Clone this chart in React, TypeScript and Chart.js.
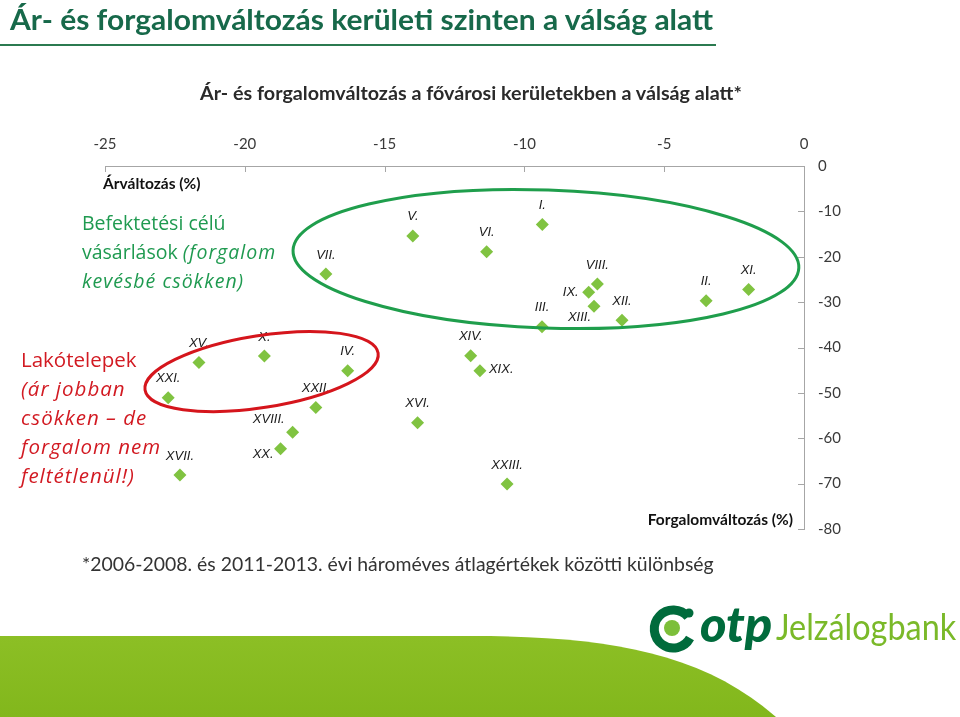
import React, { useEffect, useLayoutEffect, useRef } from "react";
import { Chart, registerables } from "chart.js";

Chart.register(...registerables);

// ---- data ----
const districts = [
  "I.", "II.", "III.", "IV.", "V.", "VI.", "VII.", "VIII.", "IX.", "X.", "XI.", "XII.",
  "XIII.", "XIV.", "XV.", "XVI.", "XVII.", "XVIII.", "XIX.", "XX.", "XXI.", "XXII.", "XXIII.",
];
// x: Árváltozás (%)
const priceChange = [
  -9.36, -3.5, -9.37, -16.32, -13.99, -11.35, -17.1, -7.39, -7.7, -19.3, -1.98, -6.51,
  -7.51, -11.92, -21.64, -13.82, -22.32, -18.29, -11.59, -18.72, -22.74, -17.46, -10.62,
];
// y: Forgalomváltozás (%)
const turnoverChange = [
  -12.9, -29.7, -35.4, -45.1, -15.4, -18.9, -23.8, -26.0, -27.8, -41.9, -27.2, -34.0,
  -30.9, -41.8, -43.3, -56.6, -68.1, -58.7, -45.1, -62.3, -51.1, -53.2, -70.1,
];
const xTicks = [-25, -20, -15, -10, -5, 0];
const yTicks = [0, -10, -20, -30, -40, -50, -60, -70, -80];

// label placement (style only)
const labelPlace: Record<string, [number, number, CanvasTextAlign]> = {
  "IX.": [-10, 0, "right"],
  "XIII.": [-3, 11, "right"],
  "XIX.": [9, -1, "left"],
  "XVIII.": [-8, -13, "right"],
  "XX.": [-7, 6, "right"],
};

// annotation ellipses in data units: [cx, cy, rx, ry, rotationDeg, color]
const ellipses: [number, number, number, number, number, string][] = [
  [-9.23, -20.5, 9.05, 15.2, 2, "#1f9e4c"],
  [-19.4, -45.3, 4.22, 7.93, -9, "#d5151c"],
];

const FitText: React.FC<{ left: number; top: number; width: number; style?: React.CSSProperties; children: React.ReactNode }> = ({ left, top, width, style, children }) => {
  const ref = useRef<HTMLSpanElement>(null);
  useLayoutEffect(() => {
    const el = ref.current;
    if (!el) return;
    el.style.transform = "none";
    const w = el.offsetWidth;
    if (w > 0) el.style.transform = `scaleX(${width / w})`;
  });
  return (
    <span
      ref={ref}
      style={{ position: "absolute", left, top, whiteSpace: "nowrap", display: "inline-block", transformOrigin: "0 0", lineHeight: 1, ...style }}
    >
      {children}
    </span>
  );
};

const overlayPlugin = {
  id: "overlay",
  afterDraw(chart: any) {
    const { ctx, chartArea, scales } = chart;
    const x = scales.x, y = scales.y;
    ctx.save();
    // inward tick marks
    ctx.strokeStyle = "#a6a6a6";
    ctx.lineWidth = 1;
    ctx.beginPath();
    x.ticks.forEach((t: any) => {
      const px = Math.round(x.getPixelForValue(t.value)) + 0.5;
      ctx.moveTo(px, chartArea.top);
      ctx.lineTo(px, chartArea.top + 6);
    });
    y.ticks.forEach((t: any) => {
      const py = Math.round(y.getPixelForValue(t.value)) + 0.5;
      ctx.moveTo(chartArea.right, py);
      ctx.lineTo(chartArea.right - 6, py);
    });
    ctx.stroke();

    // axis titles
    ctx.fillStyle = "#111";
    ctx.font = "bold 15.5px Lato";
    ctx.textBaseline = "middle";
    ctx.textAlign = "left";
    ctx.fillText("Árváltozás (%)", chartArea.left - 2, chartArea.top + 18);
    ctx.textAlign = "right";
    ctx.fillText("Forgalomváltozás (%)", chartArea.right - 11, chartArea.bottom - 9);

    // point labels
    const meta = chart.getDatasetMeta(0);
    ctx.font = "italic 13px 'Liberation Sans'";
    ctx.fillStyle = "#1a1a1a";
    meta.data.forEach((pt: any, i: number) => {
      const name = districts[i];
      const p = labelPlace[name];
      if (p) {
        ctx.textAlign = p[2];
        ctx.fillText(name, pt.x + p[0], pt.y + p[1]);
      } else {
        ctx.textAlign = "center";
        ctx.fillText(name, pt.x, pt.y - 19);
      }
    });

    // ellipses
    ctx.lineWidth = 3;
    ellipses.forEach(([cx, cy, rx, ry, rot, color]) => {
      const pcx = x.getPixelForValue(cx);
      const pcy = y.getPixelForValue(cy);
      const prx = Math.abs(x.getPixelForValue(cx + rx) - pcx);
      const pry = Math.abs(y.getPixelForValue(cy + ry) - pcy);
      ctx.strokeStyle = color;
      ctx.beginPath();
      ctx.ellipse(pcx, pcy, prx, pry, (rot * Math.PI) / 180, 0, Math.PI * 2);
      ctx.stroke();
    });
    ctx.restore();
  },
};

export default function App() {
  const canvasRef = useRef<HTMLCanvasElement>(null);

  useEffect(() => {
    if (!canvasRef.current) return;
    const chart = new Chart(canvasRef.current, {
      type: "scatter",
      data: {
        datasets: [
          {
            data: priceChange.map((v, i) => ({ x: v, y: turnoverChange[i] })),
            pointStyle: "rectRot",
            pointRadius: 6.5,
            backgroundColor: "#80c341",
            borderColor: "#80c341",
            borderWidth: 0,
          },
        ],
      },
      options: {
        responsive: false,
        animation: false,
        layout: { padding: { left: 105, top: 136, right: 96, bottom: 188 } },
        plugins: { legend: { display: false }, tooltip: { enabled: false }, title: { display: false } },
        scales: {
          x: {
            type: "linear",
            position: "top",
            min: -25,
            max: 0,
            afterBuildTicks: (s: any) => { s.ticks = xTicks.map((v) => ({ value: v })); },
            afterFit: (s: any) => { s.height = 30; },
            grid: { display: false, drawTicks: false },
            border: { display: true, color: "#a6a6a6", width: 1 },
            ticks: { padding: 13, color: "#3a3a3a", font: { family: "Lato", size: 15 } },
          },
          y: {
            type: "linear",
            position: "right",
            min: -80,
            max: 0,
            afterBuildTicks: (s: any) => { s.ticks = yTicks.map((v) => ({ value: v })); },
            afterFit: (s: any) => { s.width = 60; },
            grid: { display: false, drawTicks: false },
            border: { display: true, color: "#a6a6a6", width: 1 },
            ticks: { padding: 14, color: "#3a3a3a", font: { family: "Lato", size: 15 } },
          },
        },
      },
      plugins: [overlayPlugin],
    });
    return () => chart.destroy();
  }, []);

  const green = "#1f9a50";
  const red = "#d21a22";
  const it: React.CSSProperties = { fontStyle: "italic", letterSpacing: "1px" };

  return (
    <div style={{ position: "absolute", left: 0, top: 0, width: 960, height: 717, overflow: "hidden", background: "#fff", fontFamily: "Lato" }}>
      {/* bottom green shape */}
      <svg width={960} height={717} style={{ position: "absolute", left: 0, top: 0 }}>
        <defs>
          <linearGradient id="gg" x1="0" y1="0" x2="0" y2="1">
            <stop offset="0" stopColor="#8cbf25" />
            <stop offset="1" stopColor="#82b71c" />
          </linearGradient>
        </defs>
        <path d="M0,636 L470,636 C600,636 700,650 776,717 L0,717 Z" fill="url(#gg)" />
        {/* logo mark */}
        <path d="M688,617 A19,19 0 1 0 690,638" fill="none" stroke="#006b3c" strokeWidth={9} />
        <circle cx={672} cy={628} r={8} fill="#7cbf3a" />
        <circle cx={689} cy={613} r={4.5} fill="#006b3c" />
      </svg>

      <canvas ref={canvasRef} width={960} height={717} style={{ position: "absolute", left: 0, top: 0, width: 960, height: 717 }} />

      {/* title */}
      <FitText left={10} top={4} width={703} style={{ fontSize: 29, fontWeight: 700, color: "#17694a" }}>
        Ár- és forgalomváltozás kerületi szinten a válság alatt
      </FitText>
      <div style={{ position: "absolute", left: 0, top: 44, width: 716, height: 2, background: "#2b7a50" }} />

      {/* subtitle */}
      <FitText left={200} top={83} width={542} style={{ fontSize: 19, fontWeight: 700, color: "#2a2a2a" }}>
        Ár- és forgalomváltozás a fővárosi kerületekben a válság alatt*
      </FitText>

      {/* annotations */}
      <div style={{ position: "absolute", left: 82, top: 208, color: green, fontFamily: "'Open Sans'", fontSize: 19.5, lineHeight: "29px", whiteSpace: "nowrap" }}>
        <div>Befektetési célú</div>
        <div>vásárlások <span style={it}>(forgalom</span></div>
        <div><span style={it}>kevésbé csökken)</span></div>
      </div>
      <div style={{ position: "absolute", left: 21, top: 345, color: red, fontFamily: "'Open Sans'", fontSize: 20.5, lineHeight: "29px", whiteSpace: "nowrap" }}>
        <div>Lakótelepek</div>
        <div><span style={it}>(ár jobban</span></div>
        <div><span style={it}>csökken – de</span></div>
        <div><span style={it}>forgalom nem</span></div>
        <div><span style={it}>feltétlenül!)</span></div>
      </div>

      {/* footnote */}
      <FitText left={82} top={553} width={632} style={{ fontSize: 20, color: "#333" }}>
        *2006-2008. és 2011-2013. évi hároméves átlagértékek közötti különbség
      </FitText>

      {/* logo text */}
      <FitText left={700} top={598} width={72} style={{ fontSize: 50, fontWeight: 900, fontStyle: "italic", color: "#006b3c" }}>
        otp
      </FitText>
      <FitText left={776} top={608} width={180} style={{ fontSize: 36, color: "#7ab929" }}>
        Jelzálogbank
      </FitText>
    </div>
  );
}
